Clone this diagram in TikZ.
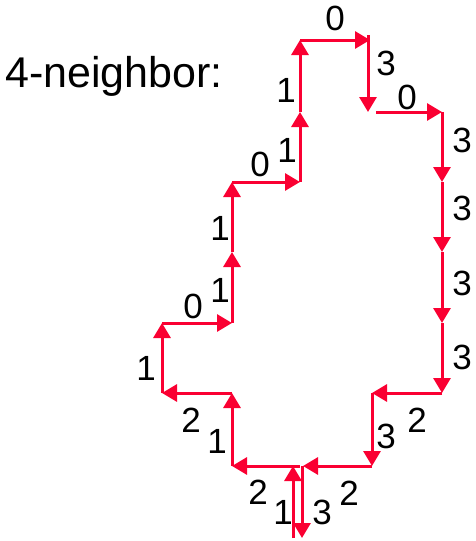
\documentclass[tikz,border=0pt]{standalone}
\usepackage{fontspec}
\setmainfont{Liberation Sans}
\usetikzlibrary{arrows.meta}
\definecolor{chainred}{RGB}{250,0,50}
\tikzset{
  move/.style={draw=chainred,line width=3pt,-{Triangle[length=15pt,width=17pt]}},
  code/.style={font=\fontsize{35}{42}\selectfont,inner sep=0pt}
}
\begin{document}
\begin{tikzpicture}[x=1pt,y=-1pt]
\useasboundingbox (0,0) rectangle (475,541);
\node[anchor=base west,font=\fontsize{43}{50}\selectfont,inner sep=0pt] (title) at (5,87) {4-neighbor:};
% corners of the boundary
\coordinate (c1) at (300,40);  \coordinate (d1) at (370,40);
\coordinate (c2) at (300,112); \coordinate (d2) at (370,112); \coordinate (e2) at (442,112);
\coordinate (b3) at (232,182); \coordinate (c3) at (300,182); \coordinate (e3) at (442,182);
\coordinate (b4) at (232,252); \coordinate (e4) at (442,252);
\coordinate (a5) at (162,323); \coordinate (b5) at (232,323); \coordinate (e5) at (442,323);
\coordinate (a6) at (162,393); \coordinate (b6) at (232,393); \coordinate (d6) at (372,393); \coordinate (e6) at (442,393);
\coordinate (b7) at (232,466); \coordinate (c7) at (300,466); \coordinate (d7) at (372,466);
\coordinate (c8) at (300,538);
% chain code moves
\draw[move] ([xshift=-7pt]c8) -- ([xshift=-7pt]c7);
\draw[move] (c7) -- (b7); \draw[move] (b7) -- (b6); \draw[move] (b6) -- (a6);
\draw[move] (a6) -- (a5); \draw[move] (a5) -- (b5); \draw[move] (b5) -- (b4);
\draw[move] (b4) -- (b3); \draw[move] (b3) -- (c3); \draw[move] (c3) -- (c2);
\draw[move] (c2) -- (c1); \draw[move] (c1) -- (d1);
\draw[move] ([shift={(-2pt,5pt)}]d1) -- ([xshift=-2pt]d2);
\draw[move] ([xshift=6pt]d2) -- (e2);
\draw[move] (e2) -- (e3); \draw[move] (e3) -- (e4); \draw[move] (e4) -- (e5); \draw[move] (e5) -- (e6);
\draw[move] (e6) -- (d6); \draw[move] (d6) -- (d7); \draw[move] (d7) -- ([xshift=3pt]c7);
\draw[move] ([xshift=2pt]c7) -- ([xshift=2pt]c8);
% codes
\node[code] (k1) at (335,18) {0};
\node[code] (k2) at (386,63) {3};
\node[code] (k3) at (407,97) {0};
\node[code] (k4) at (462,140) {3};
\node[code] (k5) at (462,208) {3};
\node[code] (k6) at (462,283) {3};
\node[code] (k7) at (462,357) {3};
\node[code] (k8) at (417,420) {2};
\node[code] (k9) at (386,436) {3};
\node[code] (k10) at (349,493) {2};
\node[code] (k11) at (322,512) {3};
\node[code] (k12) at (283,512) {1};
\node[code] (k13) at (258,492) {2};
\node[code] (k14) at (217,441) {1};
\node[code] (k15) at (191,420) {2};
\node[code] (k16) at (146,368) {1};
\node[code] (k17) at (193,306) {0};
\node[code] (k18) at (220,290) {1};
\node[code] (k19) at (220,228) {1};
\node[code] (k20) at (260,164) {0};
\node[code] (k21) at (287,150) {1};
\node[code] (k22) at (286,90) {1};
\end{tikzpicture}
\end{document}
